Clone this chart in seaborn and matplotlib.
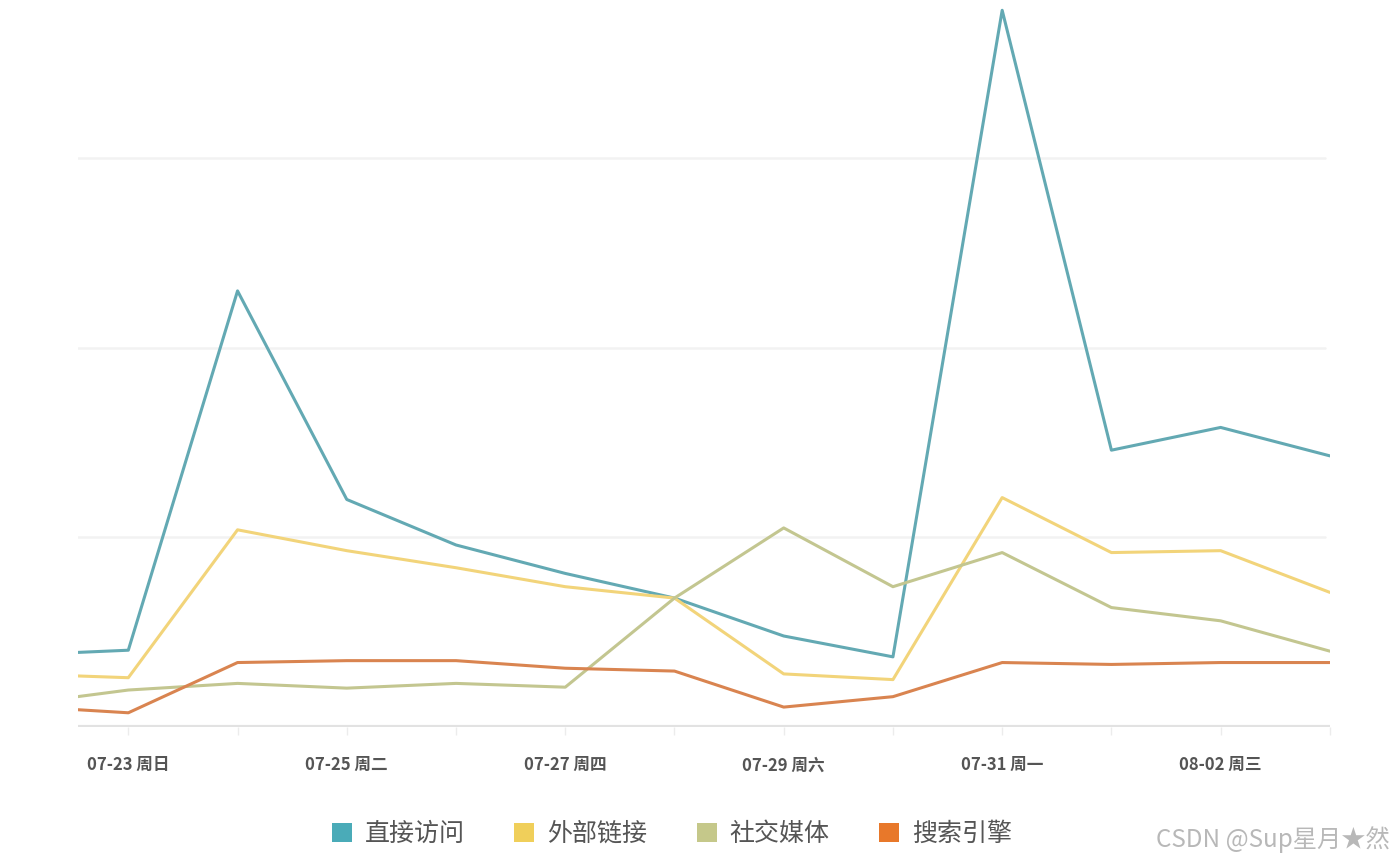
import pandas as pd
import matplotlib.pyplot as plt
import seaborn as sns
from matplotlib.patches import Patch

# day index (07-22 ... 08-03), 07-22 is only partly visible
days = list(range(-1, 12))
tick_pos = [0, 2, 4, 6, 8, 10]
tick_labels = ['07-23 周日', '07-25 周二', '07-27 周四', '07-29 周六', '07-31 周一', '08-02 周三']

series_names = ['直接访问', '外部链接', '社交媒体', '搜索引擎']
direct = [38, 40.5, 230, 120, 96, 81, 68, 48, 37, 378, 146, 158, 143]
external = [28, 26, 104, 93, 84, 74, 68, 28, 25, 121, 92, 93, 71]
social = [12, 19.5, 23, 20.5, 23, 21, 68, 105, 74, 92, 63, 56, 40]
search = [11, 7.5, 34, 35, 35, 31, 29.5, 10.5, 16, 34, 33, 34, 34]

line_colors = ['#63a9b3', '#f2d47a', '#c3c690', '#d98450']
legend_colors = ['#4aabb8', '#f0cf5a', '#c5c88a', '#e8782a']

df = pd.DataFrame({
    'day': days * 4,
    'value': direct + external + social + search,
    'source': sum([[n] * len(days) for n in series_names], []),
})

sns.set_theme(style='white')
plt.rcParams['font.family'] = ['Noto Sans CJK SC', 'DejaVu Sans']

fig = plt.figure(figsize=(13.94, 8.66), dpi=100)
ax = fig.add_axes([0.056, 0.1605, 0.898, 0.832])

for y in [100, 200, 300]:
    ax.axhline(y, xmin=-0.002, xmax=0.996, color='#f2f2f2', lw=1.8, zorder=0)

sns.lineplot(data=df, x='day', y='value', hue='source', palette=line_colors,
             linewidth=2.2, ax=ax, legend=False, zorder=3)

ax.axhline(0, color='#e2e2e2', lw=3, zorder=1)
ax.set_xlim(-0.46, 11)
ax.set_ylim(0, 380)
ax.set_xticks(range(0, 12), minor=True)
ax.set_xticks(tick_pos)
ax.set_xticklabels(tick_labels, fontsize=12, color='#555555', fontweight='bold')
ax.tick_params(axis='x', which='both', length=6, width=1, color='#ececec',
               direction='out', pad=15, bottom=True)
ax.set_yticks([])
ax.set_xlabel('')
ax.set_ylabel('')
sns.despine(ax=ax, left=True, bottom=True)

handles = [Patch(facecolor=c, edgecolor='none') for c in legend_colors]
fig.legend(handles, series_names, loc='center', bbox_to_anchor=(0.482, 0.037),
           ncol=4, frameon=False, fontsize=18, handlelength=0.8, handleheight=0.8,
           handletextpad=0.5, columnspacing=2.0, labelcolor='#555555')

fig.text(0.997, 0.03, 'CSDN @Sup星月★然', ha='right', va='center', fontsize=17.5,
         color='#b8b8b8')

fig.savefig('out.png', dpi=100)
